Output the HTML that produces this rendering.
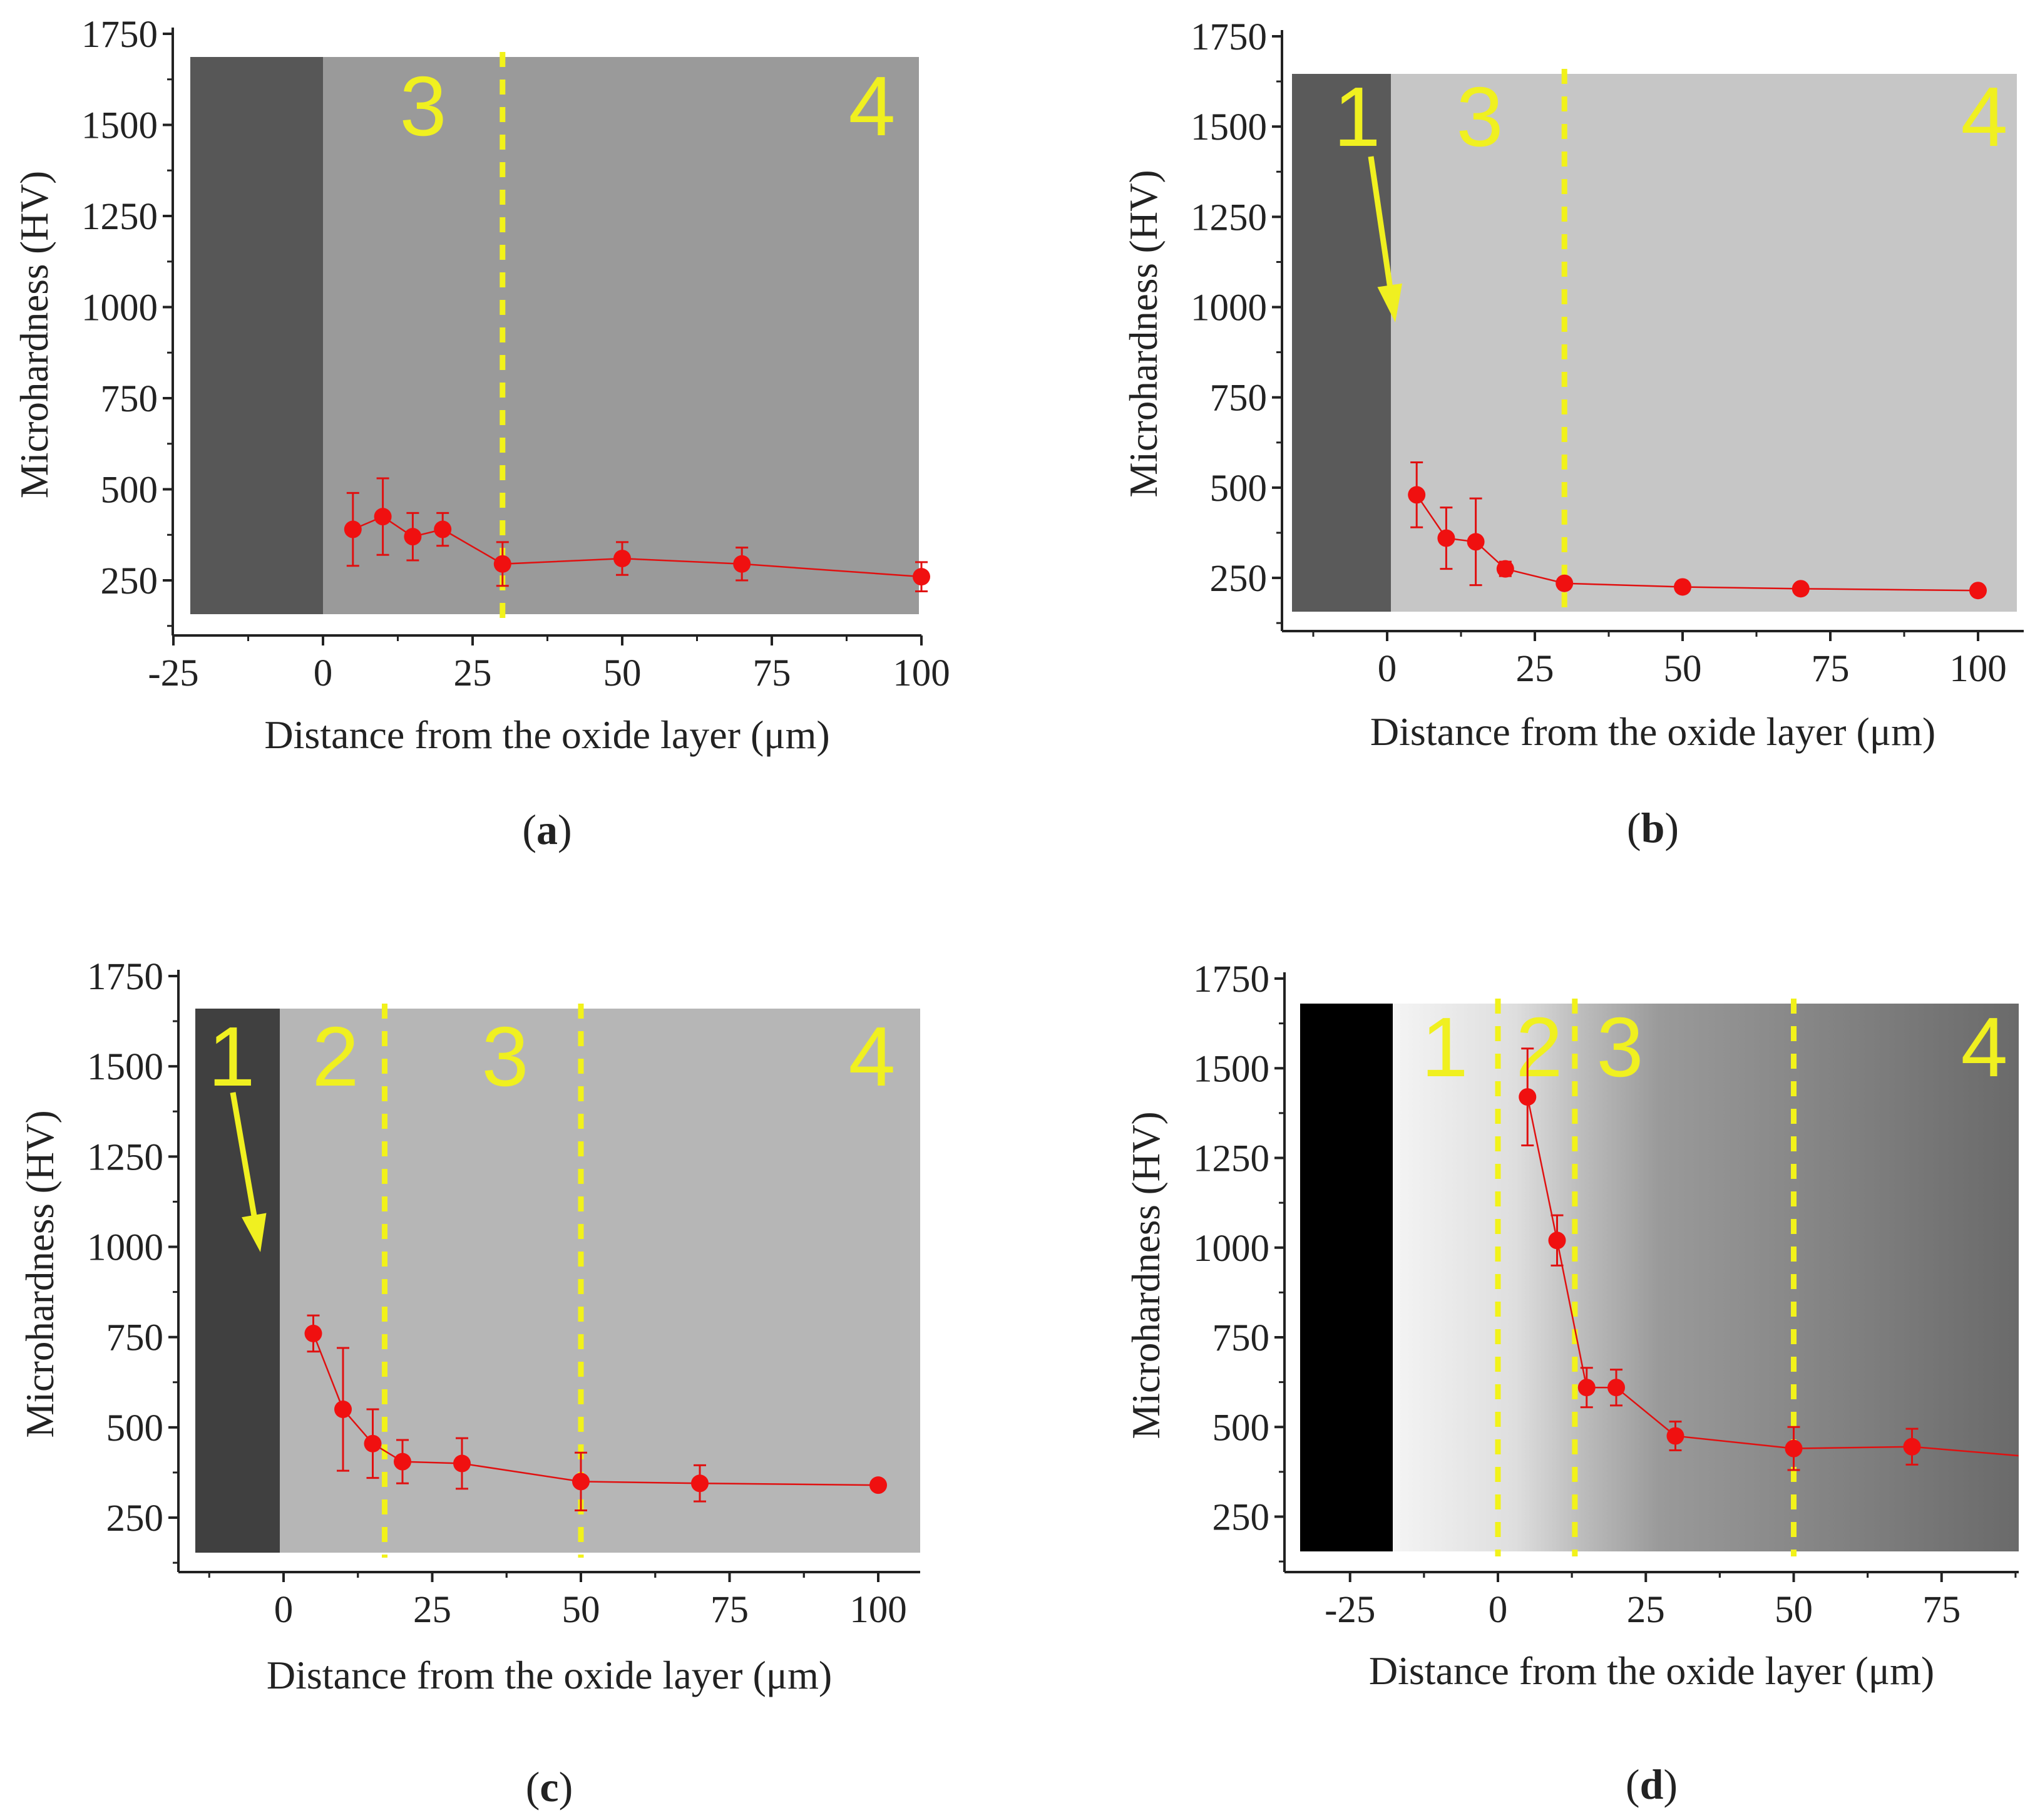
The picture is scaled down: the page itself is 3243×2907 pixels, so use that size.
<!DOCTYPE html>
<html><head><meta charset="utf-8"><style>
body{margin:0;background:#fff}
svg{display:block}
text{font-family:"Liberation Serif",serif;fill:#222}
</style></head><body>
<svg id="fig" width="3243" height="2907" viewBox="0 0 3243 2907" xmlns="http://www.w3.org/2000/svg">
<defs>
<linearGradient id="gd" x1="0" x2="1" y1="0" y2="0">
<stop offset="0.13" stop-color="#f4f4f4"/><stop offset="0.3" stop-color="#dedede"/><stop offset="0.38" stop-color="#c0c0c0"/><stop offset="0.5" stop-color="#9a9a9a"/><stop offset="1" stop-color="#6a6a6a"/>
</linearGradient>
</defs>
</svg>
<script>
const xA=[5,10,15,20,30,50,70,100], yA=[390,425,370,390,295,310,295,260], eA=[100,105,65,45,60,45,45,40];
const xB=[5,10,15,20,30,50,70,100], yB=[480,360,350,275,235,225,220,215], eB=[90,85,120,20,15,10,10,10];
const xC=[5,10,15,20,30,50,70,100], yC=[760,550,455,405,400,350,345,340], eC=[50,170,95,60,70,80,50,10];
const xD=[5,10,15,20,30,50,70,88], yD=[1420,1020,610,610,475,440,445,420], eD=[135,70,55,50,40,60,50,0];
const yTicks=[250,500,750,1000,1250,1500,1750];
const xTicksA=[-25,0,25,50,75,100], xTicksB=[0,25,50,75,100], xTicksC=[0,25,50,75,100], xTicksD=[-25,0,25,50,75];

const NS="http://www.w3.org/2000/svg", fig=document.getElementById('fig');
function mk(tag,attrs,parent,txt){const e=document.createElementNS(NS,tag);for(const k in attrs)e.setAttribute(k,attrs[k]);if(txt!==undefined)e.textContent=txt;(parent||fig).appendChild(e);return e;}

const panels=[
 {id:'a',xs:xA,ys:yA,es:eA,xt:xTicksA,ax:276,ax2:1472,x0:516,kx:9.56,y1750:54,ky:0.582,xl:1015,img:[304,91,1468,981],dark:[304,516,'#575757'],bg:'#9a9a9a',vl:[30],lab:[[676,'3'],[1393,'4']],labY:166,title:'a',tl:1195,cap:1348,ext:0},
 {id:'b',xs:xB,ys:yB,es:eB,xt:xTicksB,ax:2048,ax2:3233,x0:2216,kx:9.44,y1750:58,ky:0.5767,xl:1008,img:[2064,118,3222,977],dark:[2064,2222,'#5a5a5a'],bg:'#c6c6c6',vl:[30],lab:[[2168,'1'],[2364,'3'],[3170,'4']],labY:183,arrow:[[2190,250,2229,515]],title:'b',tl:1190,cap:1345,ext:0},
 {id:'c',xs:xC,ys:yC,es:eC,xt:xTicksC,ax:285,ax2:1470,x0:453,kx:9.5,y1750:1559,ky:0.5767,xl:2511,img:[312,1611,1470,2480],dark:[312,447,'#404040'],bg:'#b6b6b6',vl:[17,50],lab:[[370,'1'],[536,'2'],[807,'3'],[1393,'4']],labY:1684,arrow:[[372,1745,416,2000]],title:'c',tl:2697,cap:2877,ext:0},
 {id:'d',xs:xD,ys:yD,es:eD,xt:xTicksD,ax:2052,ax2:3225,x0:2393,kx:9.45,y1750:1563,ky:0.573,xl:2511,img:[2077,1603,3225,2478],dark:[2077,2225,'#000'],bg:'url(#gd)',vl:[0,13,50],lab:[[2308,'1'],[2459,'2'],[2588,'3'],[3170,'4']],labY:1669,title:'d',tl:2690,cap:2873,ext:1}
];

panels.forEach(p=>{
 const g=mk('g',{});
 
 
 const X=v=>p.x0+v*p.kx, Y=v=>p.y1750+(1750-v)*p.ky;
 const [ix1,iy1,ix2,iy2]=p.img;
 const bg=mk('rect',{x:ix1,y:iy1,width:ix2-ix1,height:iy2-iy1,fill:p.bg},g);
 
 
 const dk=mk('rect',{x:p.dark[0],y:iy1,width:p.dark[1]-p.dark[0],height:iy2-iy1,fill:p.dark[2]},g);
 
 
 p.vl.forEach(v=>{const l=mk('line',{x1:X(v),x2:X(v),y1:iy1-8,y2:iy2+8,stroke:'#f2f21a','stroke-width':9,'stroke-dasharray':'24 20'},g);
  
  });
 p.lab.forEach(([px,t])=>{const tx=mk('text',{x:px,y:p.labY+50,'font-size':135,'text-anchor':'middle',style:'font-family:"Liberation Sans",sans-serif;fill:#f0f020'},g,t);
  
  });
 (p.arrow||[]).forEach(([ax,ay,bx,by])=>{
  const ang=Math.atan2(by-ay,bx-ax);
  const l=mk('line',{x1:ax,y1:ay,x2:bx-50*Math.cos(ang),y2:by-50*Math.sin(ang),stroke:'#f0f020','stroke-width':9},g);
  
  
  mk('polygon',{points:`${bx},${by} ${bx-60*Math.cos(ang)+20*Math.sin(ang)},${by-60*Math.sin(ang)-20*Math.cos(ang)} ${bx-60*Math.cos(ang)-20*Math.sin(ang)},${by-60*Math.sin(ang)+20*Math.cos(ang)}`,fill:'#f0f020'},g);});
 const ya=mk('line',{x1:p.ax,x2:p.ax,y1:Y(1750)-10,y2:p.xl,stroke:'#222','stroke-width':4},g);
 
 
 const xa=mk('line',{x1:p.ax,x2:p.ax2,y1:p.xl,y2:p.xl,stroke:'#222','stroke-width':4},g);
 
 
 yTicks.forEach(t=>{mk('line',{x1:p.ax-16,x2:p.ax,y1:Y(t),y2:Y(t),stroke:'#222','stroke-width':4},g);
  mk('line',{x1:p.ax-9,x2:p.ax,y1:Y(t-125),y2:Y(t-125),stroke:'#222','stroke-width':3},g);
  const tx=mk('text',{x:p.ax-24,y:Y(t)+21,'font-size':61,'text-anchor':'end'},g,t);
  
  });
 p.xt.forEach(t=>{mk('line',{x1:X(t),x2:X(t),y1:p.xl,y2:p.xl+16,stroke:'#222','stroke-width':4},g);
  if(X(t+12.5)<p.ax2)mk('line',{x1:X(t+12.5),x2:X(t+12.5),y1:p.xl,y2:p.xl+9,stroke:'#222','stroke-width':3},g);
  if(X(t-12.5)>p.ax)mk('line',{x1:X(t-12.5),x2:X(t-12.5),y1:p.xl,y2:p.xl+9,stroke:'#222','stroke-width':3},g);
  const tx=mk('text',{x:X(t),y:p.xl+80,'font-size':61,'text-anchor':'middle'},g,t);
  
  });
 const yt=mk('text',{x:0,y:0,'font-size':63,'text-anchor':'middle',transform:`translate(${p.ax-200},${(Y(1750)+p.xl)/2}) rotate(-90)`},g,'Microhardness (HV)');
 
 
 const xt=mk('text',{x:(p.ax+p.ax2)/2,y:p.tl,'font-size':64,'text-anchor':'middle'},g,'Distance from the oxide layer (\u03bcm)');
 
 
 const cap=mk('text',{x:(p.ax+p.ax2)/2,y:p.cap,'font-size':68,'text-anchor':'middle'},g);
 
 
 mk('tspan',{},cap,'(');mk('tspan',{'font-weight':'bold'},cap,p.title);mk('tspan',{},cap,')');
 const pts=p.xs.map((v,i)=>X(v)+','+Y(p.ys[i])).join(' ');
 const pl=mk('polyline',{points:pts,fill:'none',stroke:'#e01010','stroke-width':2.5},g);
 
 
 p.xs.forEach((v,i)=>{
  if(p.ext&&i===p.xs.length-1)return;
  const cx=X(v),cy=Y(p.ys[i]),e=p.es[i]*p.ky;
  const eb=mk('path',{d:`M${cx},${cy-e}V${cy+e}M${cx-10},${cy-e}H${cx+10}M${cx-10},${cy+e}H${cx+10}`,stroke:'#e01010','stroke-width':3,fill:'none'},g);
  
  
  const c=mk('circle',{cx:cx,cy:cy,r:14,fill:'#f01010'},g);
  
  
 });
});
</script>
</body></html>
